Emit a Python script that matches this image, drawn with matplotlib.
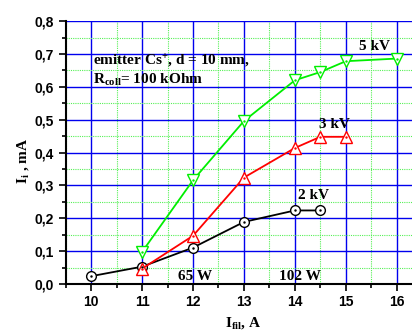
import matplotlib
matplotlib.use("Agg")
import matplotlib.pyplot as plt
from matplotlib.ticker import MultipleLocator, FuncFormatter

plt.rcParams['mathtext.fontset'] = 'custom'
plt.rcParams['mathtext.rm'] = 'Liberation Serif:bold'
plt.rcParams['mathtext.bf'] = 'Liberation Serif:bold'
plt.rcParams['mathtext.it'] = 'Liberation Serif:bold'
plt.rcParams['mathtext.default'] = 'rm'

x_2kv = [10, 11, 12, 13, 14, 14.5]
y_2kv = [0.024, 0.053, 0.111, 0.189, 0.224, 0.224]
x_3kv = [11, 12, 13, 14, 14.5, 15]
y_3kv = [0.047, 0.147, 0.324, 0.414, 0.448, 0.448]
x_5kv = [11, 12, 13, 14, 14.5, 15, 16]
y_5kv = [0.098, 0.316, 0.496, 0.620, 0.645, 0.678, 0.686]

fig = plt.figure(figsize=(4.12, 3.35), dpi=100)
ax = fig.add_axes([0.1595, 0.152, 1.0 - 0.1595, 0.785])
ax.set_xlim(9.5, 16.3)
ax.set_ylim(0, 0.8)

ax.xaxis.set_major_locator(MultipleLocator(1))
ax.xaxis.set_minor_locator(MultipleLocator(0.5))
ax.yaxis.set_major_locator(MultipleLocator(0.1))
ax.yaxis.set_minor_locator(MultipleLocator(0.05))
ax.grid(which='minor', color='#55f055', linestyle=(0, (1, 1)), linewidth=0.8, zorder=0)
ax.grid(which='major', color='#0000ee', linestyle='-', linewidth=1.0, zorder=0)
ax.set_axisbelow(True)

for s in ['top', 'right']:
    ax.spines[s].set_visible(False)
for s in ['left', 'bottom']:
    ax.spines[s].set_linewidth(1.5)

ax.tick_params(which='both', direction='out', width=1.2)
ax.tick_params(which='major', length=5)
ax.tick_params(which='minor', length=3)
ax.yaxis.set_major_formatter(FuncFormatter(lambda v, p: f"{v:.1f}".replace('.', ',')))
ax.xaxis.set_major_formatter(FuncFormatter(lambda v, p: f"{int(round(v))}"))
for lab in ax.get_xticklabels() + ax.get_yticklabels():
    lab.set_fontfamily('Liberation Sans')
    lab.set_fontweight('bold')
    lab.set_fontsize(10)
ax.tick_params(axis='x', pad=3)

common = dict(markerfacecolor='white', markeredgewidth=1.0, linewidth=1.3, clip_on=False, zorder=3)
series = [
    (x_2kv, y_2kv, 'black', 'o', 7),
    (x_3kv, y_3kv, '#ff0000', '^', 8.5),
    (x_5kv, y_5kv, '#00ee00', 'v', 8.5),
]
for xs, ys, c, m, ms in series:
    ax.plot(xs, ys, color=c, marker=m, markersize=ms, markeredgecolor=c, **common)
    ax.plot(xs, ys, linestyle='none', marker='.', markersize=1.5, color=c, clip_on=False, zorder=4)

serif = dict(fontfamily='Liberation Serif', fontweight='bold', fontsize=11)
ax.text(10.03, 0.665, r"emitter Cs$^{+}$, d = 10 mm,", **serif)
ax.text(10.03, 0.61, r"R$_{coll}$= 100 kOhm", **serif)
ax.text(15.26, 0.711, "5 kV", **serif)
ax.text(14.48, 0.474, "3 kV", **serif)
ax.text(14.06, 0.258, "2 kV", **serif)
ax.text(11.71, 0.012, "65 W", **serif)
ax.text(13.69, 0.012, "102 W", **serif)

fig.text(0.055, 0.52, r"I$_{i}$ , mA", rotation=90, ha='center', va='center',
         fontfamily='Liberation Serif', fontweight='bold', fontsize=11)
fig.text(0.59, 0.036, r"I$_{fil}$, A", ha='center', va='center',
         fontfamily='Liberation Serif', fontweight='bold', fontsize=11)

fig.savefig('out.png', dpi=100)
